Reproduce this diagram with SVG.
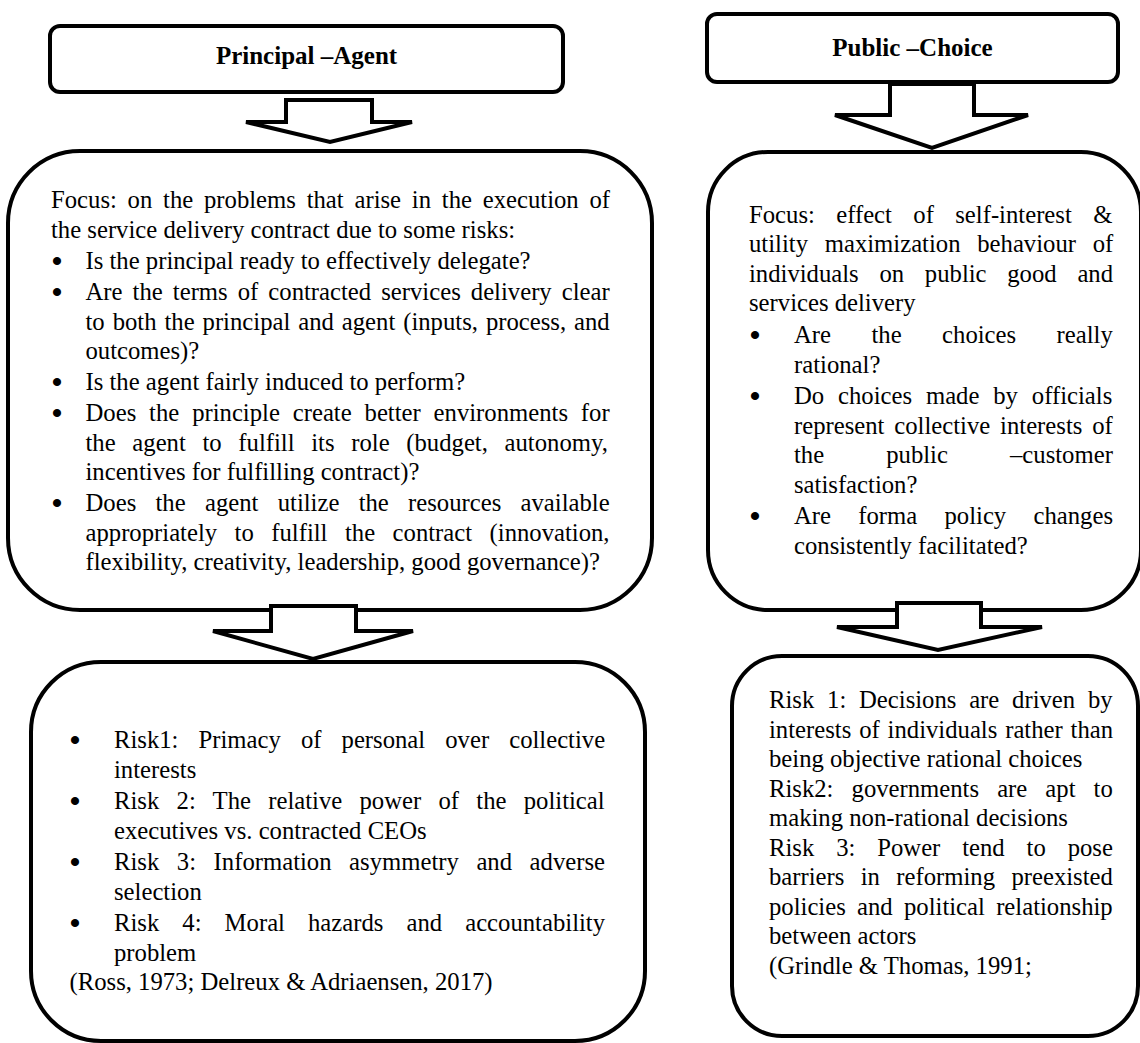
<svg xmlns="http://www.w3.org/2000/svg" width="1140" height="1043" viewBox="0 0 1140 1043">
<style>
.box{fill:#fff;stroke:#000;stroke-width:4}
.arr{fill:#fff;stroke:#000;stroke-width:4;stroke-linejoin:miter;stroke-miterlimit:3}
.h{font-family:'Liberation Serif','Times New Roman','DejaVu Serif',serif;font-size:25px;font-weight:bold;text-anchor:middle;fill:#000}
.t{font-family:'Liberation Serif','Times New Roman','DejaVu Serif',serif;font-size:24.7px;fill:#000}
.b{font-family:'Liberation Serif','Times New Roman','DejaVu Serif',serif;font-size:30px;font-weight:bold;text-anchor:middle;fill:#000}
</style>
<rect width="1140" height="1043" fill="#fff"/>

<g id="pa-header">
<rect class="box" x="50" y="26" width="513" height="66" rx="10"/>
<text class="h" x="306.5" y="64">Principal –Agent</text>
</g>

<g id="pc-header">
<rect class="box" x="707" y="14" width="411" height="68" rx="10"/>
<text class="h" x="912.5" y="56">Public –Choice</text>
</g>

<g id="pa-focus">
<rect class="box" x="8" y="151" width="644" height="459" rx="72"/>
<text class="t" x="51" y="208" word-spacing="4.6">Focus: on the problems that arise in the execution of</text>
<text class="t" x="51" y="237.5">the service delivery contract due to some risks:</text>
<text class="b" x="57" y="270.5">•</text>
<text class="t" x="85.5" y="269">Is the principal ready to effectively delegate?</text>
<text class="b" x="57" y="301.5">•</text>
<text class="t" x="85.5" y="300" word-spacing="3.9">Are the terms of contracted services delivery clear</text>
<text class="t" x="85.5" y="329.5" word-spacing="1.76">to both the principal and agent (inputs, process, and</text>
<text class="t" x="85.5" y="359">outcomes)?</text>
<text class="b" x="57" y="391.5">•</text>
<text class="t" x="85.5" y="390">Is the agent fairly induced to perform?</text>
<text class="b" x="57" y="422.5">•</text>
<text class="t" x="85.5" y="421" word-spacing="6.7">Does the principle create better environments for</text>
<text class="t" x="85.5" y="450.5" word-spacing="10.5">the agent to fulfill its role (budget, autonomy,</text>
<text class="t" x="85.5" y="480">incentives for fulfilling contract)?</text>
<text class="b" x="57" y="512.5">•</text>
<text class="t" x="85.5" y="511" word-spacing="13.1">Does the agent utilize the resources available</text>
<text class="t" x="85.5" y="540.5" word-spacing="11.3">appropriately to fulfill the contract (innovation,</text>
<text class="t" x="85.5" y="570">flexibility, creativity, leadership, good governance)?</text>
</g>

<g id="pc-focus">
<rect class="box" x="708" y="152" width="433" height="458" rx="60"/>
<text class="t" x="749" y="222.5" word-spacing="15.2">Focus: effect of self-interest &amp;</text>
<text class="t" x="749" y="252" word-spacing="10.6">utility maximization behaviour of</text>
<text class="t" x="749" y="281.5" word-spacing="14.55">individuals on public good and</text>
<text class="t" x="749" y="311">services delivery</text>
<text class="b" x="755" y="344.5">•</text>
<text class="t" x="794" y="343" word-spacing="34.3">Are the choices really</text>
<text class="t" x="794" y="372.5">rational?</text>
<text class="b" x="755" y="405.5">•</text>
<text class="t" x="794" y="404" word-spacing="7.7">Do choices made by officials</text>
<text class="t" x="794" y="433.5" word-spacing="3.67">represent collective interests of</text>
<text class="t" x="794" y="463" word-spacing="55.9">the public –customer</text>
<text class="t" x="794" y="492.5">satisfaction?</text>
<text class="b" x="755" y="525.5">•</text>
<text class="t" x="794" y="524" word-spacing="21.1">Are forma policy changes</text>
<text class="t" x="794" y="553.5">consistently facilitated?</text>
</g>

<g id="pa-risks">
<rect class="box" x="31" y="662" width="614" height="379" rx="70"/>
<text class="b" x="75" y="749.5">•</text>
<text class="t" x="114" y="748" word-spacing="13.9">Risk1: Primacy of personal over collective</text>
<text class="t" x="114" y="777.5">interests</text>
<text class="b" x="75" y="810.5">•</text>
<text class="t" x="114" y="809" word-spacing="11.1">Risk 2: The relative power of the political</text>
<text class="t" x="114" y="838.5">executives vs. contracted CEOs</text>
<text class="b" x="75" y="871.5">•</text>
<text class="t" x="114" y="870" word-spacing="11.4">Risk 3: Information asymmetry and adverse</text>
<text class="t" x="114" y="899.5">selection</text>
<text class="b" x="75" y="932.5">•</text>
<text class="t" x="114" y="931" word-spacing="16.9">Risk 4: Moral hazards and accountability</text>
<text class="t" x="114" y="960.5">problem</text>
<text class="t" x="69.5" y="990">(Ross, 1973; Delreux &amp; Adriaensen, 2017)</text>
</g>

<g id="pc-risks">
<rect class="box" x="732" y="656" width="406" height="380" rx="50"/>
<text class="t" x="769" y="708" word-spacing="6.6">Risk 1: Decisions are driven by</text>
<text class="t" x="769" y="737.5" word-spacing="1.7">interests of individuals rather than</text>
<text class="t" x="769" y="767">being objective rational choices</text>
<text class="t" x="769" y="796.5" word-spacing="11.9">Risk2: governments are apt to</text>
<text class="t" x="769" y="826">making non-rational decisions</text>
<text class="t" x="769" y="855.5" word-spacing="15.7">Risk 3: Power tend to pose</text>
<text class="t" x="769" y="885" word-spacing="10.2">barriers in reforming preexisted</text>
<text class="t" x="769" y="914.5" word-spacing="5.1">policies and political relationship</text>
<text class="t" x="769" y="944">between actors</text>
<text class="t" x="769" y="973.5">(Grindle &amp; Thomas, 1991;</text>
</g>

<g id="connectors">
<polygon class="arr" points="286,100 372,100 372,122 412,122 330,142 246,122 286,122"/>
<polygon class="arr" points="271,606 356,606 356,631 413,631 313,659 213,631 271,631"/>
<polygon class="arr" points="890,84 974,84 974,115 1028,115 932,148 835,115 890,115"/>
<polygon class="arr" points="897,603 981,603 981,627 1042,627 938,650 837,627 897,627"/>
</g>
</svg>
